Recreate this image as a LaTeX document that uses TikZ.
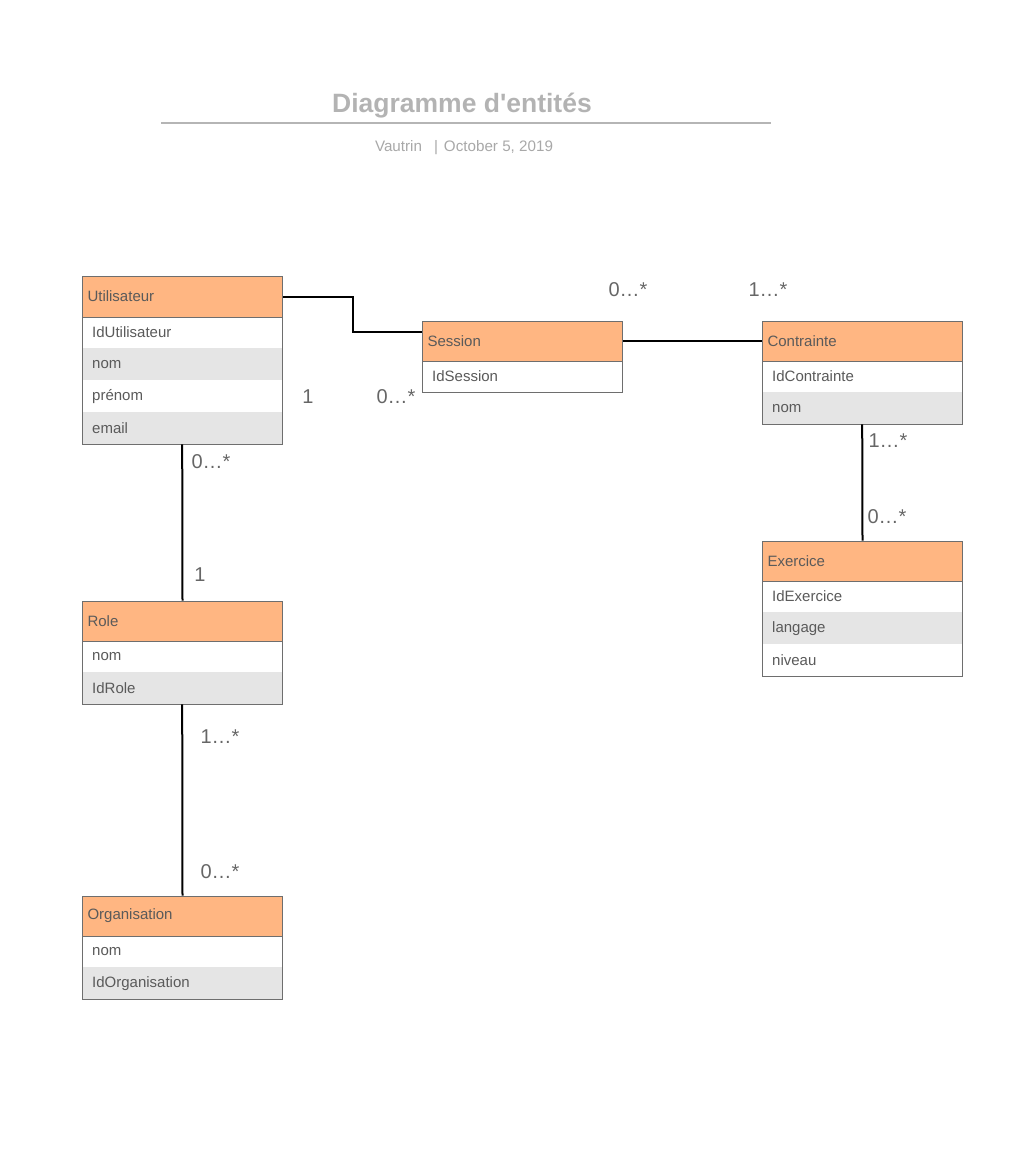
\documentclass[tikz,border=0pt]{standalone}
\usepackage{fontspec}
\setmainfont{Liberation Sans}
\definecolor{hdrfill}{HTML}{FFB682}
\definecolor{rowgray}{HTML}{E5E5E5}
\definecolor{bordergray}{HTML}{6E6E6E}
\definecolor{txtgray}{HTML}{5A5A5A}
\definecolor{lblgray}{HTML}{666666}
\definecolor{titlegray}{HTML}{B3B3B3}
\definecolor{subgray}{HTML}{A8A8A8}
\definecolor{rulegray}{HTML}{B5B5B5}
\tikzset{
  hdr/.style={anchor=north west, fill=hdrfill, draw=bordergray, line width=1pt,
    minimum height=41pt, text width=190pt, inner xsep=5pt, inner ysep=0pt, align=left,
    font=\fontsize{15}{18}\selectfont, text=txtgray},
  roww/.style={anchor=north west, fill=white, minimum height=32pt, text width=180pt,
    inner xsep=10pt, inner ysep=0pt, align=left,
    font=\fontsize{15}{18}\selectfont, text=txtgray},
  rowg/.style={roww, fill=rowgray},
  outline/.style={draw=bordergray, line width=1pt},
  conn/.style={draw=black, line width=2pt},
  lbl/.style={font=\fontsize{20}{24}\selectfont, text=lblgray, inner sep=0pt}
}
\begin{document}
\begin{tikzpicture}[x=1pt,y=-1pt]
\useasboundingbox (0,0) rectangle (1027,1166);
% title
\node[font=\bfseries\fontsize{26.5}{30}\selectfont, text=titlegray] (title) at (462,106) {Diagramme d\textquotesingle entités};
\coordinate (r1) at (161,123);
\coordinate (r2) at (771,123);
\draw[rulegray, line width=2pt] (r1) -- (r2);
\node[font=\fontsize{15.2}{18}\selectfont, text=subgray] (sub) at (464,148) {Vautrin\hspace{12pt}|\hspace{6pt}October 5, 2019};

% Utilisateur
\node[roww] (u1) at (82,316) {IdUtilisateur};
\node[rowg] (u2) at (82,348) {nom};
\node[roww] (u3) at (82,380) {prénom};
\node[rowg] (u4) at (82,412) {email};
\draw[outline] (u1.north west) rectangle (u4.south east);
\node[hdr] (uh) at (82,275.5) {Utilisateur};

% Session
\node[roww] (s1) at (422,360) {IdSession};
\draw[outline] (s1.north west) rectangle (s1.south east);
\node[hdr, minimum height=40pt] (sh) at (422,320.5) {Session};

% Contrainte
\node[roww] (c1) at (762,360) {IdContrainte};
\node[rowg] (c2) at (762,392) {nom};
\draw[outline] (c1.north west) rectangle (c2.south east);
\node[hdr, minimum height=40pt] (ch) at (762,320.5) {Contrainte};

% Exercice
\node[roww] (e1) at (762,580) {IdExercice};
\node[rowg] (e2) at (762,612) {langage};
\node[roww] (e3) at (762,644) {niveau};
\draw[outline] (e1.north west) rectangle (e3.south east);
\node[hdr, minimum height=40pt] (eh) at (762,540.5) {Exercice};

% Role
\node[roww] (ro1) at (82,640) {nom};
\node[rowg] (ro2) at (82,672) {IdRole};
\draw[outline] (ro1.north west) rectangle (ro2.south east);
\node[hdr, minimum height=40pt] (roh) at (82,600.5) {Role};

% Organisation
\node[roww] (o1) at (82,935) {nom};
\node[rowg] (o2) at (82,967) {IdOrganisation};
\draw[outline] (o1.north west) rectangle (o2.south east);
\node[hdr, minimum height=40pt] (oh) at (82,895.5) {Organisation};

% connectors
\draw[conn] (uh.east) -- ++(70,0) |- ([yshift=-11pt]sh.north west);
\draw[conn] (sh.east) -- (ch.west);
\draw[conn] (u4.south) -- (roh.north);
\draw[conn] (ro2.south) -- (oh.north);
\draw[conn] (c2.south) -- (eh.north);

% labels
\node[lbl] (l1) at (308,397) {1};
\node[lbl] (l2) at (396,397) {0…*};
\node[lbl] (l3) at (628,290) {0…*};
\node[lbl] (l4) at (768,290) {1…*};
\node[lbl] (l5) at (211,462) {0…*};
\node[lbl] (l6) at (200,575) {1};
\node[lbl] (l7) at (220,737) {1…*};
\node[lbl] (l8) at (220,872) {0…*};
\node[lbl] (l9) at (888,441) {1…*};
\node[lbl] (l10) at (887,517) {0…*};
\end{tikzpicture}
\end{document}
